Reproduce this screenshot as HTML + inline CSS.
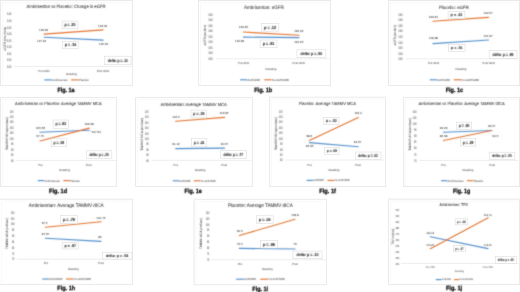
<!DOCTYPE html>
<html><head><meta charset="utf-8"><style>
html,body{margin:0;padding:0;background:#fff;}
body{width:520px;height:292px;overflow:hidden;}
svg{display:block;font-family:"Liberation Sans",sans-serif;text-rendering:geometricPrecision;}
</style></head><body>
<svg width="520" height="292" viewBox="0 0 520 292">
<defs><filter id="b" filterUnits="userSpaceOnUse" x="0" y="0" width="520" height="292"><feConvolveMatrix order="3" kernelMatrix="1 2 1 2 12 2 1 2 1" divisor="24" edgeMode="none"/></filter></defs>
<rect width="520" height="292" fill="#fff"/>
<rect x="0.5" y="0.5" width="132" height="85" fill="#fff" stroke="#eaeaea" stroke-width="1"/>
<path d="M2.5 84V2.5H131" fill="none" stroke="#f9f9f9" stroke-width="1"/>
<line x1="14.5" y1="66.4" x2="131.5" y2="66.4" stroke="#e0e0e0" stroke-width="0.6"/>
<rect x="198.5" y="0.5" width="132" height="85" fill="#fff" stroke="#eaeaea" stroke-width="1"/>
<path d="M200.5 84V2.5H329" fill="none" stroke="#f9f9f9" stroke-width="1"/>
<line x1="216.5" y1="58.8" x2="329.5" y2="58.8" stroke="#e0e0e0" stroke-width="0.6"/>
<rect x="388.5" y="0.5" width="131" height="85" fill="#fff" stroke="#eaeaea" stroke-width="1"/>
<path d="M390.5 84V2.5H518" fill="none" stroke="#f9f9f9" stroke-width="1"/>
<line x1="405.8" y1="58.8" x2="518.5" y2="58.8" stroke="#e0e0e0" stroke-width="0.6"/>
<rect x="0.5" y="97.5" width="116" height="89" fill="#fff" stroke="#eaeaea" stroke-width="1"/>
<path d="M2.5 185V99.5H115" fill="none" stroke="#f9f9f9" stroke-width="1"/>
<line x1="15.7" y1="160.4" x2="115.8" y2="160.4" stroke="#e0e0e0" stroke-width="0.6"/>
<rect x="135.5" y="97.5" width="117" height="89" fill="#fff" stroke="#eaeaea" stroke-width="1"/>
<path d="M137.5 185V99.5H251" fill="none" stroke="#f9f9f9" stroke-width="1"/>
<line x1="151.8" y1="160.3" x2="251.2" y2="160.3" stroke="#e0e0e0" stroke-width="0.6"/>
<rect x="269.5" y="97.2" width="116" height="89.3" fill="#fff" stroke="#eaeaea" stroke-width="1"/>
<path d="M271.5 185V99.2H384" fill="none" stroke="#f9f9f9" stroke-width="1"/>
<line x1="285.1" y1="160.1" x2="384.5" y2="160.1" stroke="#e0e0e0" stroke-width="0.6"/>
<rect x="403.5" y="97.5" width="116" height="89" fill="#fff" stroke="#eaeaea" stroke-width="1"/>
<path d="M405.5 185V99.5H518" fill="none" stroke="#f9f9f9" stroke-width="1"/>
<line x1="419.2" y1="160.4" x2="518" y2="160.4" stroke="#e0e0e0" stroke-width="0.6"/>
<rect x="-0.5" y="199.2" width="133" height="85.2" fill="#fff" stroke="#eaeaea" stroke-width="1"/>
<path d="M1.5 282.9V201.2H131" fill="none" stroke="#f9f9f9" stroke-width="1"/>
<line x1="16.9" y1="259.2" x2="131.5" y2="259.2" stroke="#e0e0e0" stroke-width="0.6"/>
<rect x="194" y="199.3" width="132.5" height="85.4" fill="#fff" stroke="#eaeaea" stroke-width="1"/>
<path d="M196 283.2V201.3H325" fill="none" stroke="#f9f9f9" stroke-width="1"/>
<line x1="211.5" y1="259.8" x2="325.7" y2="259.8" stroke="#e0e0e0" stroke-width="0.6"/>
<rect x="388.5" y="199.1" width="131" height="85.4" fill="#fff" stroke="#eaeaea" stroke-width="1"/>
<path d="M390.5 283V201.1H518" fill="none" stroke="#f9f9f9" stroke-width="1"/>
<line x1="401.3" y1="263.4" x2="518.3" y2="263.4" stroke="#e0e0e0" stroke-width="0.6"/>
<g filter="url(#b)">
<line x1="44.2" y1="37.3" x2="103.1" y2="40.1" stroke="#4f8ecb" stroke-width="1.15" stroke-linecap="round"/>
<line x1="44.2" y1="34.1" x2="103.1" y2="29.9" stroke="#e2742f" stroke-width="1.15" stroke-linecap="round"/>
<line x1="44.3" y1="79.9" x2="51.5" y2="79.9" stroke="#4f8ecb" stroke-width="1.15"/>
<line x1="71.2" y1="79.9" x2="78.5" y2="79.9" stroke="#e2742f" stroke-width="1.15"/>
<line x1="243.4" y1="37.1" x2="299" y2="37.6" stroke="#4f8ecb" stroke-width="1.15" stroke-linecap="round"/>
<line x1="243.4" y1="32" x2="299" y2="35.3" stroke="#e2742f" stroke-width="1.15" stroke-linecap="round"/>
<line x1="240.1" y1="79.8" x2="247.3" y2="79.8" stroke="#4f8ecb" stroke-width="1.15"/>
<line x1="264.2" y1="79.8" x2="271.5" y2="79.8" stroke="#e2742f" stroke-width="1.15"/>
<line x1="433" y1="43.6" x2="488.5" y2="40" stroke="#4f8ecb" stroke-width="1.15" stroke-linecap="round"/>
<line x1="433" y1="21.3" x2="488.5" y2="17.4" stroke="#e2742f" stroke-width="1.15" stroke-linecap="round"/>
<line x1="429.8" y1="79.8" x2="437" y2="79.8" stroke="#4f8ecb" stroke-width="1.15"/>
<line x1="453.8" y1="79.8" x2="461.3" y2="79.8" stroke="#e2742f" stroke-width="1.15"/>
<line x1="40" y1="132.2" x2="89.3" y2="130.3" stroke="#4f8ecb" stroke-width="1.15" stroke-linecap="round"/>
<line x1="40" y1="141" x2="89.3" y2="128.1" stroke="#e2742f" stroke-width="1.15" stroke-linecap="round"/>
<line x1="89.7" y1="130.7" x2="91.3" y2="131.7" stroke="#a6a6a6" stroke-width="0.6" stroke-linecap="round"/>
<line x1="37.8" y1="180.6" x2="44.1" y2="180.6" stroke="#4f8ecb" stroke-width="1.15"/>
<line x1="63.3" y1="180.6" x2="69.8" y2="180.6" stroke="#e2742f" stroke-width="1.15"/>
<line x1="175.7" y1="148.6" x2="224.6" y2="148.1" stroke="#4f8ecb" stroke-width="1.15" stroke-linecap="round"/>
<line x1="175.7" y1="121.3" x2="224.6" y2="117.4" stroke="#e2742f" stroke-width="1.15" stroke-linecap="round"/>
<line x1="172.8" y1="180.8" x2="179.3" y2="180.8" stroke="#4f8ecb" stroke-width="1.15"/>
<line x1="193.8" y1="180.8" x2="200.5" y2="180.8" stroke="#e2742f" stroke-width="1.15"/>
<line x1="309.4" y1="142.6" x2="358.3" y2="146.7" stroke="#4f8ecb" stroke-width="1.15" stroke-linecap="round"/>
<line x1="309.4" y1="140.4" x2="358.3" y2="117.4" stroke="#e2742f" stroke-width="1.15" stroke-linecap="round"/>
<line x1="306.5" y1="180.4" x2="313" y2="180.4" stroke="#4f8ecb" stroke-width="1.15"/>
<line x1="327.5" y1="180.4" x2="334.4" y2="180.4" stroke="#e2742f" stroke-width="1.15"/>
<line x1="443.4" y1="132.2" x2="491.9" y2="130.5" stroke="#4f8ecb" stroke-width="1.15" stroke-linecap="round"/>
<line x1="443.4" y1="140.5" x2="491.9" y2="130.5" stroke="#e2742f" stroke-width="1.15" stroke-linecap="round"/>
<line x1="441.1" y1="180.7" x2="447.3" y2="180.7" stroke="#4f8ecb" stroke-width="1.15"/>
<line x1="466.9" y1="180.7" x2="473.4" y2="180.7" stroke="#e2742f" stroke-width="1.15"/>
<line x1="45.4" y1="238.2" x2="101" y2="241.4" stroke="#4f8ecb" stroke-width="1.15" stroke-linecap="round"/>
<line x1="45.4" y1="227.3" x2="101" y2="221.7" stroke="#e2742f" stroke-width="1.15" stroke-linecap="round"/>
<line x1="42.3" y1="279" x2="49" y2="279" stroke="#4f8ecb" stroke-width="1.15"/>
<line x1="66" y1="279" x2="73.2" y2="279" stroke="#e2742f" stroke-width="1.15"/>
<line x1="239.3" y1="248.4" x2="295.1" y2="249" stroke="#4f8ecb" stroke-width="1.15" stroke-linecap="round"/>
<line x1="239.3" y1="235.5" x2="295.1" y2="219.3" stroke="#e2742f" stroke-width="1.15" stroke-linecap="round"/>
<line x1="236.1" y1="279.2" x2="243.8" y2="279.2" stroke="#4f8ecb" stroke-width="1.15"/>
<line x1="260.2" y1="279.2" x2="268.1" y2="279.2" stroke="#e2742f" stroke-width="1.15"/>
<line x1="430.3" y1="236.7" x2="488" y2="248.6" stroke="#4f8ecb" stroke-width="1.15" stroke-linecap="round"/>
<line x1="430.3" y1="248.7" x2="488.2" y2="217.8" stroke="#e2742f" stroke-width="1.15" stroke-linecap="round"/>
<line x1="435.8" y1="279.6" x2="441.5" y2="279.6" stroke="#4f8ecb" stroke-width="1.15"/>
<line x1="454.2" y1="279.6" x2="459" y2="279.6" stroke="#e2742f" stroke-width="1.15"/>
</g>
<rect x="62.1" y="21.1" width="15.8" height="7.65" fill="#fff" stroke="#dcdcdc" stroke-width="0.6"/>
<rect x="62.4" y="41.25" width="16.2" height="7.5" fill="#fff" stroke="#dcdcdc" stroke-width="0.6"/>
<rect x="104.6" y="56.2" width="26.5" height="8.5" fill="#fff" stroke="#dcdcdc" stroke-width="0.6"/>
<rect x="261.3" y="23.6" width="17.5" height="7.5" fill="#fff" stroke="#dcdcdc" stroke-width="0.6"/>
<rect x="260.1" y="40" width="16.9" height="7.7" fill="#fff" stroke="#dcdcdc" stroke-width="0.6"/>
<rect x="296.9" y="49.8" width="29" height="7.6" fill="#fff" stroke="#dcdcdc" stroke-width="0.6"/>
<rect x="448.1" y="11.5" width="16.7" height="7.1" fill="#fff" stroke="#dcdcdc" stroke-width="0.6"/>
<rect x="448.5" y="44.6" width="16.6" height="6.7" fill="#fff" stroke="#dcdcdc" stroke-width="0.6"/>
<rect x="489.2" y="50.3" width="27.7" height="8" fill="#fff" stroke="#dcdcdc" stroke-width="0.6"/>
<rect x="53.1" y="120" width="15.4" height="8.3" fill="#fff" stroke="#dcdcdc" stroke-width="0.6"/>
<rect x="51.2" y="138.8" width="15.3" height="7.9" fill="#fff" stroke="#dcdcdc" stroke-width="0.6"/>
<rect x="86.3" y="150.8" width="25.5" height="7.7" fill="#fff" stroke="#dcdcdc" stroke-width="0.6"/>
<rect x="191" y="110" width="15.8" height="7.8" fill="#fff" stroke="#dcdcdc" stroke-width="0.6"/>
<rect x="191.5" y="138.6" width="15.3" height="8.1" fill="#fff" stroke="#dcdcdc" stroke-width="0.6"/>
<rect x="220.3" y="150.7" width="26" height="7.9" fill="#fff" stroke="#dcdcdc" stroke-width="0.6"/>
<rect x="323.6" y="117.4" width="15.4" height="7.2" fill="#fff" stroke="#dcdcdc" stroke-width="0.6"/>
<rect x="324.7" y="147.6" width="14.4" height="6.7" fill="#fff" stroke="#dcdcdc" stroke-width="0.6"/>
<rect x="355.2" y="152" width="25.8" height="7.4" fill="#fff" stroke="#dcdcdc" stroke-width="0.6"/>
<rect x="456.5" y="122.1" width="15.2" height="7.4" fill="#fff" stroke="#dcdcdc" stroke-width="0.6"/>
<rect x="460.5" y="138.4" width="15.2" height="7.7" fill="#fff" stroke="#dcdcdc" stroke-width="0.6"/>
<rect x="489.2" y="152.2" width="25.6" height="7.4" fill="#fff" stroke="#dcdcdc" stroke-width="0.6"/>
<rect x="60.3" y="215.6" width="17.3" height="7.9" fill="#fff" stroke="#dcdcdc" stroke-width="0.6"/>
<rect x="62.1" y="242.5" width="16.5" height="6.5" fill="#fff" stroke="#dcdcdc" stroke-width="0.6"/>
<rect x="102.5" y="252.2" width="29.4" height="6.9" fill="#fff" stroke="#dcdcdc" stroke-width="0.6"/>
<rect x="256.4" y="215.8" width="16.8" height="7.6" fill="#fff" stroke="#dcdcdc" stroke-width="0.6"/>
<rect x="260.4" y="240.6" width="17.1" height="7.4" fill="#fff" stroke="#dcdcdc" stroke-width="0.6"/>
<rect x="292.9" y="251.1" width="29.1" height="7.6" fill="#fff" stroke="#dcdcdc" stroke-width="0.6"/>
<rect x="455.2" y="218.8" width="12.6" height="6.1" fill="#fff" stroke="#dcdcdc" stroke-width="0.6"/>
<rect x="453.4" y="245.4" width="11.9" height="6.3" fill="#fff" stroke="#dcdcdc" stroke-width="0.6"/>
<rect x="495.2" y="256.6" width="21.2" height="6.8" fill="#fff" stroke="#dcdcdc" stroke-width="0.6"/>
<g filter="url(#b)">
<text x="26.5" y="8.24" font-size="4.53" fill="#404040" stroke="#404040" stroke-width="0.07" textLength="79" lengthAdjust="spacingAndGlyphs">Ambrisentan vs Placebo: Change in eGFR</text>
<text x="11.45" y="15.46" font-size="3.5" fill="#505050" stroke="#505050" stroke-width="0.03" text-anchor="end" textLength="4.5" lengthAdjust="spacingAndGlyphs">145</text>
<text x="11.45" y="22.01" font-size="3.5" fill="#505050" stroke="#505050" stroke-width="0.03" text-anchor="end" textLength="4.5" lengthAdjust="spacingAndGlyphs">140</text>
<text x="11.45" y="28.56" font-size="3.5" fill="#505050" stroke="#505050" stroke-width="0.03" text-anchor="end" textLength="4.5" lengthAdjust="spacingAndGlyphs">135</text>
<text x="11.45" y="35.11" font-size="3.5" fill="#505050" stroke="#505050" stroke-width="0.03" text-anchor="end" textLength="4.5" lengthAdjust="spacingAndGlyphs">130</text>
<text x="11.45" y="41.66" font-size="3.5" fill="#505050" stroke="#505050" stroke-width="0.03" text-anchor="end" textLength="4.5" lengthAdjust="spacingAndGlyphs">125</text>
<text x="11.45" y="48.21" font-size="3.5" fill="#505050" stroke="#505050" stroke-width="0.03" text-anchor="end" textLength="4.5" lengthAdjust="spacingAndGlyphs">120</text>
<text x="11.45" y="54.76" font-size="3.5" fill="#505050" stroke="#505050" stroke-width="0.03" text-anchor="end" textLength="4.5" lengthAdjust="spacingAndGlyphs">115</text>
<text x="11.45" y="61.31" font-size="3.5" fill="#505050" stroke="#505050" stroke-width="0.03" text-anchor="end" textLength="4.5" lengthAdjust="spacingAndGlyphs">110</text>
<text x="11.45" y="67.86" font-size="3.5" fill="#505050" stroke="#505050" stroke-width="0.03" text-anchor="end" textLength="4.5" lengthAdjust="spacingAndGlyphs">105</text>
<text transform="translate(5 39) rotate(-90)" x="0" y="1.19" font-size="3.3" fill="#404040" stroke="#404040" stroke-width="0.03" text-anchor="middle" textLength="23.5" lengthAdjust="spacingAndGlyphs">eGFR (mL/min)</text>
<text x="43.6" y="30.58" font-size="3" fill="#3c3c3c" stroke="#3c3c3c" stroke-width="0.03" text-anchor="middle">129.96</text>
<text x="41.6" y="41.58" font-size="3" fill="#3c3c3c" stroke="#3c3c3c" stroke-width="0.03" text-anchor="middle">127.34</text>
<text x="102.7" y="26.68" font-size="3" fill="#3c3c3c" stroke="#3c3c3c" stroke-width="0.03" text-anchor="middle">133.06</text>
<text x="103.6" y="44.68" font-size="3" fill="#3c3c3c" stroke="#3c3c3c" stroke-width="0.03" text-anchor="middle">125.32</text>
<text x="70" y="26.21" font-size="4.28" fill="#1a1a1a" stroke="#1a1a1a" stroke-width="0.04" text-anchor="middle" font-weight="bold" textLength="11.06" lengthAdjust="spacingAndGlyphs">p = .20</text>
<text x="70.5" y="46.26" font-size="4.2" fill="#1a1a1a" stroke="#1a1a1a" stroke-width="0.04" text-anchor="middle" font-weight="bold" textLength="11.34" lengthAdjust="spacingAndGlyphs">p = .34</text>
<text x="117.85" y="61.74" font-size="4.3" fill="#1a1a1a" stroke="#1a1a1a" stroke-width="0.04" text-anchor="middle" font-weight="bold" textLength="20.01" lengthAdjust="spacingAndGlyphs">delta: p = .11</text>
<text x="44" y="71.94" font-size="2.9" fill="#505050" stroke="#505050" stroke-width="0.03" text-anchor="middle">Pre GFR</text>
<text x="103" y="71.94" font-size="2.9" fill="#505050" stroke="#505050" stroke-width="0.03" text-anchor="middle">Post GFR</text>
<text x="71.5" y="75.46" font-size="2.9" fill="#505050" stroke="#505050" stroke-width="0.03" text-anchor="middle">Reading</text>
<text x="51.8" y="80.89" font-size="3" fill="#505050" stroke="#505050" stroke-width="0.03" textLength="15.9" lengthAdjust="spacingAndGlyphs">Ambrisentan</text>
<text x="78.8" y="80.89" font-size="3" fill="#505050" stroke="#505050" stroke-width="0.03" textLength="10" lengthAdjust="spacingAndGlyphs">Placebo</text>
<text x="57.4" y="91.73" font-size="6.2" fill="#000" stroke="#000" stroke-width="0.25" font-weight="bold" textLength="17.2" lengthAdjust="spacingAndGlyphs">Fig. 1a</text>
<text x="244" y="8.66" font-size="4.88" fill="#404040" stroke="#404040" stroke-width="0.07" textLength="39.9" lengthAdjust="spacingAndGlyphs">Ambrisentan: eGFR</text>
<text x="212.75" y="15.86" font-size="3.5" fill="#505050" stroke="#505050" stroke-width="0.03" text-anchor="end" textLength="4.5" lengthAdjust="spacingAndGlyphs">145</text>
<text x="212.75" y="21.37" font-size="3.5" fill="#505050" stroke="#505050" stroke-width="0.03" text-anchor="end" textLength="4.5" lengthAdjust="spacingAndGlyphs">140</text>
<text x="212.75" y="26.89" font-size="3.5" fill="#505050" stroke="#505050" stroke-width="0.03" text-anchor="end" textLength="4.5" lengthAdjust="spacingAndGlyphs">135</text>
<text x="212.75" y="32.4" font-size="3.5" fill="#505050" stroke="#505050" stroke-width="0.03" text-anchor="end" textLength="4.5" lengthAdjust="spacingAndGlyphs">130</text>
<text x="212.75" y="37.91" font-size="3.5" fill="#505050" stroke="#505050" stroke-width="0.03" text-anchor="end" textLength="4.5" lengthAdjust="spacingAndGlyphs">125</text>
<text x="212.75" y="43.42" font-size="3.5" fill="#505050" stroke="#505050" stroke-width="0.03" text-anchor="end" textLength="4.5" lengthAdjust="spacingAndGlyphs">120</text>
<text x="212.75" y="48.94" font-size="3.5" fill="#505050" stroke="#505050" stroke-width="0.03" text-anchor="end" textLength="4.5" lengthAdjust="spacingAndGlyphs">115</text>
<text x="212.75" y="54.45" font-size="3.5" fill="#505050" stroke="#505050" stroke-width="0.03" text-anchor="end" textLength="4.5" lengthAdjust="spacingAndGlyphs">110</text>
<text x="212.75" y="59.96" font-size="3.5" fill="#505050" stroke="#505050" stroke-width="0.03" text-anchor="end" textLength="4.5" lengthAdjust="spacingAndGlyphs">105</text>
<text transform="translate(205.1 34.9) rotate(-90)" x="0" y="1.19" font-size="3.3" fill="#404040" stroke="#404040" stroke-width="0.03" text-anchor="middle" textLength="20.5" lengthAdjust="spacingAndGlyphs">eGFR (mL/min)</text>
<text x="243.4" y="28.18" font-size="3" fill="#3c3c3c" stroke="#3c3c3c" stroke-width="0.03" text-anchor="middle">129.62</text>
<text x="239.6" y="41.98" font-size="3" fill="#3c3c3c" stroke="#3c3c3c" stroke-width="0.03" text-anchor="middle">124.68</text>
<text x="298.8" y="31.68" font-size="3" fill="#3c3c3c" stroke="#3c3c3c" stroke-width="0.03" text-anchor="middle">126.24</text>
<text x="298.8" y="42.78" font-size="3" fill="#3c3c3c" stroke="#3c3c3c" stroke-width="0.03" text-anchor="middle">124.25</text>
<text x="270.05" y="28.61" font-size="4.2" fill="#1a1a1a" stroke="#1a1a1a" stroke-width="0.04" text-anchor="middle" font-weight="bold" textLength="12.25" lengthAdjust="spacingAndGlyphs">p = .12</text>
<text x="268.55" y="45.14" font-size="4.3" fill="#1a1a1a" stroke="#1a1a1a" stroke-width="0.04" text-anchor="middle" font-weight="bold" textLength="11.83" lengthAdjust="spacingAndGlyphs">p = .91</text>
<text x="311.4" y="54.88" font-size="4.26" fill="#1a1a1a" stroke="#1a1a1a" stroke-width="0.04" text-anchor="middle" font-weight="bold" textLength="21.89" lengthAdjust="spacingAndGlyphs">delta: p = .50</text>
<text x="243.7" y="64.44" font-size="2.9" fill="#505050" stroke="#505050" stroke-width="0.03" text-anchor="middle">Pre GFR</text>
<text x="298.5" y="64.44" font-size="2.9" fill="#505050" stroke="#505050" stroke-width="0.03" text-anchor="middle">Post GFR</text>
<text x="271" y="70.06" font-size="2.9" fill="#505050" stroke="#505050" stroke-width="0.03" text-anchor="middle">Reading</text>
<text x="247.6" y="80.79" font-size="3" fill="#505050" stroke="#505050" stroke-width="0.03" textLength="12.6" lengthAdjust="spacingAndGlyphs">ACE/ARB</text>
<text x="271.8" y="80.79" font-size="3" fill="#505050" stroke="#505050" stroke-width="0.03" textLength="17.2" lengthAdjust="spacingAndGlyphs">No ACE/ARB</text>
<text x="254.2" y="92.03" font-size="6.2" fill="#000" stroke="#000" stroke-width="0.25" font-weight="bold" textLength="18" lengthAdjust="spacingAndGlyphs">Fig. 1b</text>
<text x="439" y="8.5" font-size="4.71" fill="#404040" stroke="#404040" stroke-width="0.07" textLength="29.8" lengthAdjust="spacingAndGlyphs">Placebo: eGFR</text>
<text x="402.75" y="15.86" font-size="3.5" fill="#505050" stroke="#505050" stroke-width="0.03" text-anchor="end" textLength="4.5" lengthAdjust="spacingAndGlyphs">145</text>
<text x="402.75" y="21.4" font-size="3.5" fill="#505050" stroke="#505050" stroke-width="0.03" text-anchor="end" textLength="4.5" lengthAdjust="spacingAndGlyphs">140</text>
<text x="402.75" y="26.93" font-size="3.5" fill="#505050" stroke="#505050" stroke-width="0.03" text-anchor="end" textLength="4.5" lengthAdjust="spacingAndGlyphs">135</text>
<text x="402.75" y="32.47" font-size="3.5" fill="#505050" stroke="#505050" stroke-width="0.03" text-anchor="end" textLength="4.5" lengthAdjust="spacingAndGlyphs">130</text>
<text x="402.75" y="38.01" font-size="3.5" fill="#505050" stroke="#505050" stroke-width="0.03" text-anchor="end" textLength="4.5" lengthAdjust="spacingAndGlyphs">125</text>
<text x="402.75" y="43.55" font-size="3.5" fill="#505050" stroke="#505050" stroke-width="0.03" text-anchor="end" textLength="4.5" lengthAdjust="spacingAndGlyphs">120</text>
<text x="402.75" y="49.08" font-size="3.5" fill="#505050" stroke="#505050" stroke-width="0.03" text-anchor="end" textLength="4.5" lengthAdjust="spacingAndGlyphs">115</text>
<text x="402.75" y="54.62" font-size="3.5" fill="#505050" stroke="#505050" stroke-width="0.03" text-anchor="end" textLength="4.5" lengthAdjust="spacingAndGlyphs">110</text>
<text x="402.75" y="60.16" font-size="3.5" fill="#505050" stroke="#505050" stroke-width="0.03" text-anchor="end" textLength="4.5" lengthAdjust="spacingAndGlyphs">105</text>
<text transform="translate(395.1 34.9) rotate(-90)" x="0" y="1.19" font-size="3.3" fill="#404040" stroke="#404040" stroke-width="0.03" text-anchor="middle" textLength="20.5" lengthAdjust="spacingAndGlyphs">eGFR (mL/min)</text>
<text x="433.3" y="17.58" font-size="3" fill="#3c3c3c" stroke="#3c3c3c" stroke-width="0.03" text-anchor="middle">139.34</text>
<text x="433.5" y="39.48" font-size="3" fill="#3c3c3c" stroke="#3c3c3c" stroke-width="0.03" text-anchor="middle">118.98</text>
<text x="488.2" y="13.58" font-size="3" fill="#3c3c3c" stroke="#3c3c3c" stroke-width="0.03" text-anchor="middle">142.57</text>
<text x="488.2" y="36.58" font-size="3" fill="#3c3c3c" stroke="#3c3c3c" stroke-width="0.03" text-anchor="middle">121.97</text>
<text x="456.45" y="16.24" font-size="3.98" fill="#1a1a1a" stroke="#1a1a1a" stroke-width="0.04" text-anchor="middle" font-weight="bold" textLength="11.69" lengthAdjust="spacingAndGlyphs">p = .42</text>
<text x="456.8" y="49.08" font-size="3.75" fill="#1a1a1a" stroke="#1a1a1a" stroke-width="0.04" text-anchor="middle" font-weight="bold" textLength="11.62" lengthAdjust="spacingAndGlyphs">p = .31</text>
<text x="503.05" y="55.59" font-size="4.3" fill="#1a1a1a" stroke="#1a1a1a" stroke-width="0.04" text-anchor="middle" font-weight="bold" textLength="20.91" lengthAdjust="spacingAndGlyphs">delta: p = .95</text>
<text x="433.6" y="64.44" font-size="2.9" fill="#505050" stroke="#505050" stroke-width="0.03" text-anchor="middle">Pre GFR</text>
<text x="488.5" y="64.44" font-size="2.9" fill="#505050" stroke="#505050" stroke-width="0.03" text-anchor="middle">Post GFR</text>
<text x="461" y="70.06" font-size="2.9" fill="#505050" stroke="#505050" stroke-width="0.03" text-anchor="middle">Reading</text>
<text x="437.3" y="80.79" font-size="3" fill="#505050" stroke="#505050" stroke-width="0.03" textLength="12.6" lengthAdjust="spacingAndGlyphs">ACE/ARB</text>
<text x="461.6" y="80.79" font-size="3" fill="#505050" stroke="#505050" stroke-width="0.03" textLength="17.4" lengthAdjust="spacingAndGlyphs">No ACE/ARB</text>
<text x="445.7" y="92.13" font-size="6.2" fill="#000" stroke="#000" stroke-width="0.25" font-weight="bold" textLength="17.5" lengthAdjust="spacingAndGlyphs">Fig. 1c</text>
<text x="15.1" y="105.09" font-size="4.39" fill="#404040" stroke="#404040" stroke-width="0.07" textLength="86.6" lengthAdjust="spacingAndGlyphs">Ambrisentan vs Placebo: Average TAMMV MCA</text>
<text x="13.72" y="112.56" font-size="3.5" fill="#505050" stroke="#505050" stroke-width="0.03" text-anchor="end" textLength="4.05" lengthAdjust="spacingAndGlyphs">125</text>
<text x="13.72" y="118.02" font-size="3.5" fill="#505050" stroke="#505050" stroke-width="0.03" text-anchor="end" textLength="4.05" lengthAdjust="spacingAndGlyphs">120</text>
<text x="13.72" y="123.47" font-size="3.5" fill="#505050" stroke="#505050" stroke-width="0.03" text-anchor="end" textLength="4.05" lengthAdjust="spacingAndGlyphs">115</text>
<text x="13.72" y="128.93" font-size="3.5" fill="#505050" stroke="#505050" stroke-width="0.03" text-anchor="end" textLength="4.05" lengthAdjust="spacingAndGlyphs">110</text>
<text x="13.72" y="134.38" font-size="3.5" fill="#505050" stroke="#505050" stroke-width="0.03" text-anchor="end" textLength="4.05" lengthAdjust="spacingAndGlyphs">105</text>
<text x="13.72" y="139.84" font-size="3.5" fill="#505050" stroke="#505050" stroke-width="0.03" text-anchor="end" textLength="4.05" lengthAdjust="spacingAndGlyphs">100</text>
<text x="13.72" y="145.29" font-size="3.5" fill="#505050" stroke="#505050" stroke-width="0.03" text-anchor="end" textLength="2.7" lengthAdjust="spacingAndGlyphs">95</text>
<text x="13.72" y="150.75" font-size="3.5" fill="#505050" stroke="#505050" stroke-width="0.03" text-anchor="end" textLength="2.7" lengthAdjust="spacingAndGlyphs">90</text>
<text x="13.72" y="156.2" font-size="3.5" fill="#505050" stroke="#505050" stroke-width="0.03" text-anchor="end" textLength="2.7" lengthAdjust="spacingAndGlyphs">85</text>
<text x="13.72" y="161.66" font-size="3.5" fill="#505050" stroke="#505050" stroke-width="0.03" text-anchor="end" textLength="2.7" lengthAdjust="spacingAndGlyphs">80</text>
<text transform="translate(6.8 133.6) rotate(-90)" x="0" y="1.19" font-size="3.3" fill="#404040" stroke="#404040" stroke-width="0.03" text-anchor="middle" textLength="32.7" lengthAdjust="spacingAndGlyphs">TAMMV MCA (cm/sec)</text>
<text x="40.5" y="128.78" font-size="3" fill="#3c3c3c" stroke="#3c3c3c" stroke-width="0.03" text-anchor="middle">105.66</text>
<text x="40.3" y="137.08" font-size="3" fill="#3c3c3c" stroke="#3c3c3c" stroke-width="0.03" text-anchor="middle">97.75</text>
<text x="89" y="124.68" font-size="3" fill="#3c3c3c" stroke="#3c3c3c" stroke-width="0.03" text-anchor="middle">109.38</text>
<text x="96.3" y="132.58" font-size="3" fill="#3c3c3c" stroke="#3c3c3c" stroke-width="0.03" text-anchor="middle">107.64</text>
<text x="60.8" y="125.44" font-size="4.3" fill="#1a1a1a" stroke="#1a1a1a" stroke-width="0.04" text-anchor="middle" font-weight="bold" textLength="10.78" lengthAdjust="spacingAndGlyphs">p = .82</text>
<text x="58.85" y="144.04" font-size="4.3" fill="#1a1a1a" stroke="#1a1a1a" stroke-width="0.04" text-anchor="middle" font-weight="bold" textLength="10.71" lengthAdjust="spacingAndGlyphs">p = .08</text>
<text x="99.05" y="155.94" font-size="4.3" fill="#1a1a1a" stroke="#1a1a1a" stroke-width="0.04" text-anchor="middle" font-weight="bold" textLength="19.25" lengthAdjust="spacingAndGlyphs">delta: p = .20</text>
<text x="40.4" y="165.74" font-size="2.9" fill="#505050" stroke="#505050" stroke-width="0.03" text-anchor="middle">Pre</text>
<text x="88.6" y="165.74" font-size="2.9" fill="#505050" stroke="#505050" stroke-width="0.03" text-anchor="middle">Post</text>
<text x="64.7" y="171.06" font-size="2.9" fill="#505050" stroke="#505050" stroke-width="0.03" text-anchor="middle">Reading</text>
<text x="44.4" y="181.59" font-size="3" fill="#505050" stroke="#505050" stroke-width="0.03" textLength="15.6" lengthAdjust="spacingAndGlyphs">Ambrisentan</text>
<text x="70.1" y="181.59" font-size="3" fill="#505050" stroke="#505050" stroke-width="0.03" textLength="9.9" lengthAdjust="spacingAndGlyphs">Placebo</text>
<text x="49.1" y="193.23" font-size="6.2" fill="#000" stroke="#000" stroke-width="0.25" font-weight="bold" textLength="18" lengthAdjust="spacingAndGlyphs">Fig. 1d</text>
<text x="160.4" y="105.51" font-size="4.45" fill="#404040" stroke="#404040" stroke-width="0.07" textLength="66.4" lengthAdjust="spacingAndGlyphs">Ambrisentan: Average TAMMV MCA</text>
<text x="148.83" y="112.86" font-size="3.5" fill="#505050" stroke="#505050" stroke-width="0.03" text-anchor="end" textLength="4.05" lengthAdjust="spacingAndGlyphs">125</text>
<text x="148.83" y="118.27" font-size="3.5" fill="#505050" stroke="#505050" stroke-width="0.03" text-anchor="end" textLength="4.05" lengthAdjust="spacingAndGlyphs">120</text>
<text x="148.83" y="123.68" font-size="3.5" fill="#505050" stroke="#505050" stroke-width="0.03" text-anchor="end" textLength="4.05" lengthAdjust="spacingAndGlyphs">115</text>
<text x="148.83" y="129.09" font-size="3.5" fill="#505050" stroke="#505050" stroke-width="0.03" text-anchor="end" textLength="4.05" lengthAdjust="spacingAndGlyphs">110</text>
<text x="148.83" y="134.5" font-size="3.5" fill="#505050" stroke="#505050" stroke-width="0.03" text-anchor="end" textLength="4.05" lengthAdjust="spacingAndGlyphs">105</text>
<text x="148.83" y="139.92" font-size="3.5" fill="#505050" stroke="#505050" stroke-width="0.03" text-anchor="end" textLength="4.05" lengthAdjust="spacingAndGlyphs">100</text>
<text x="148.83" y="145.33" font-size="3.5" fill="#505050" stroke="#505050" stroke-width="0.03" text-anchor="end" textLength="2.7" lengthAdjust="spacingAndGlyphs">95</text>
<text x="148.83" y="150.74" font-size="3.5" fill="#505050" stroke="#505050" stroke-width="0.03" text-anchor="end" textLength="2.7" lengthAdjust="spacingAndGlyphs">90</text>
<text x="148.83" y="156.15" font-size="3.5" fill="#505050" stroke="#505050" stroke-width="0.03" text-anchor="end" textLength="2.7" lengthAdjust="spacingAndGlyphs">85</text>
<text x="148.83" y="161.56" font-size="3.5" fill="#505050" stroke="#505050" stroke-width="0.03" text-anchor="end" textLength="2.7" lengthAdjust="spacingAndGlyphs">80</text>
<text transform="translate(141.8 134.2) rotate(-90)" x="0" y="1.19" font-size="3.3" fill="#404040" stroke="#404040" stroke-width="0.03" text-anchor="middle" textLength="32.8" lengthAdjust="spacingAndGlyphs">TAMMV MCA (cm/sec)</text>
<text x="176" y="117.58" font-size="3" fill="#3c3c3c" stroke="#3c3c3c" stroke-width="0.03" text-anchor="middle">116.5</text>
<text x="176" y="144.78" font-size="3" fill="#3c3c3c" stroke="#3c3c3c" stroke-width="0.03" text-anchor="middle">91.12</text>
<text x="224" y="114.18" font-size="3" fill="#3c3c3c" stroke="#3c3c3c" stroke-width="0.03" text-anchor="middle">119.62</text>
<text x="224.4" y="144.78" font-size="3" fill="#3c3c3c" stroke="#3c3c3c" stroke-width="0.03" text-anchor="middle">91.67</text>
<text x="198.9" y="115.19" font-size="4.3" fill="#1a1a1a" stroke="#1a1a1a" stroke-width="0.04" text-anchor="middle" font-weight="bold" textLength="11.06" lengthAdjust="spacingAndGlyphs">p = .35</text>
<text x="199.15" y="143.94" font-size="4.3" fill="#1a1a1a" stroke="#1a1a1a" stroke-width="0.04" text-anchor="middle" font-weight="bold" textLength="10.71" lengthAdjust="spacingAndGlyphs">p = .41</text>
<text x="233.3" y="155.94" font-size="4.3" fill="#1a1a1a" stroke="#1a1a1a" stroke-width="0.04" text-anchor="middle" font-weight="bold" textLength="19.63" lengthAdjust="spacingAndGlyphs">delta: p = .77</text>
<text x="175.8" y="166.04" font-size="2.9" fill="#505050" stroke="#505050" stroke-width="0.03" text-anchor="middle">Pre</text>
<text x="224.1" y="166.04" font-size="2.9" fill="#505050" stroke="#505050" stroke-width="0.03" text-anchor="middle">Post</text>
<text x="200.1" y="171.46" font-size="2.9" fill="#505050" stroke="#505050" stroke-width="0.03" text-anchor="middle">Reading</text>
<text x="179.6" y="181.79" font-size="3" fill="#505050" stroke="#505050" stroke-width="0.03" textLength="10.8" lengthAdjust="spacingAndGlyphs">ACE/ARB</text>
<text x="200.8" y="181.79" font-size="3" fill="#505050" stroke="#505050" stroke-width="0.03" textLength="14.8" lengthAdjust="spacingAndGlyphs">No ACE/ARB</text>
<text x="184.6" y="193.43" font-size="6.2" fill="#000" stroke="#000" stroke-width="0.25" font-weight="bold" textLength="17.1" lengthAdjust="spacingAndGlyphs">Fig. 1e</text>
<text x="298.7" y="105.29" font-size="4.38" fill="#404040" stroke="#404040" stroke-width="0.07" textLength="57.3" lengthAdjust="spacingAndGlyphs">Placebo: Average TAMMV MCA</text>
<text x="282.82" y="112.56" font-size="3.5" fill="#505050" stroke="#505050" stroke-width="0.03" text-anchor="end" textLength="4.05" lengthAdjust="spacingAndGlyphs">125</text>
<text x="282.82" y="117.98" font-size="3.5" fill="#505050" stroke="#505050" stroke-width="0.03" text-anchor="end" textLength="4.05" lengthAdjust="spacingAndGlyphs">120</text>
<text x="282.82" y="123.4" font-size="3.5" fill="#505050" stroke="#505050" stroke-width="0.03" text-anchor="end" textLength="4.05" lengthAdjust="spacingAndGlyphs">115</text>
<text x="282.82" y="128.83" font-size="3.5" fill="#505050" stroke="#505050" stroke-width="0.03" text-anchor="end" textLength="4.05" lengthAdjust="spacingAndGlyphs">110</text>
<text x="282.82" y="134.25" font-size="3.5" fill="#505050" stroke="#505050" stroke-width="0.03" text-anchor="end" textLength="4.05" lengthAdjust="spacingAndGlyphs">105</text>
<text x="282.82" y="139.67" font-size="3.5" fill="#505050" stroke="#505050" stroke-width="0.03" text-anchor="end" textLength="4.05" lengthAdjust="spacingAndGlyphs">100</text>
<text x="282.82" y="145.09" font-size="3.5" fill="#505050" stroke="#505050" stroke-width="0.03" text-anchor="end" textLength="2.7" lengthAdjust="spacingAndGlyphs">95</text>
<text x="282.82" y="150.52" font-size="3.5" fill="#505050" stroke="#505050" stroke-width="0.03" text-anchor="end" textLength="2.7" lengthAdjust="spacingAndGlyphs">90</text>
<text x="282.82" y="155.94" font-size="3.5" fill="#505050" stroke="#505050" stroke-width="0.03" text-anchor="end" textLength="2.7" lengthAdjust="spacingAndGlyphs">85</text>
<text x="282.82" y="161.36" font-size="3.5" fill="#505050" stroke="#505050" stroke-width="0.03" text-anchor="end" textLength="2.7" lengthAdjust="spacingAndGlyphs">80</text>
<text transform="translate(275.8 133.6) rotate(-90)" x="0" y="1.19" font-size="3.3" fill="#404040" stroke="#404040" stroke-width="0.03" text-anchor="middle" textLength="32.7" lengthAdjust="spacingAndGlyphs">TAMMV MCA (cm/sec)</text>
<text x="309.3" y="136.58" font-size="3" fill="#3c3c3c" stroke="#3c3c3c" stroke-width="0.03" text-anchor="middle">98.6</text>
<text x="309.6" y="146.88" font-size="3" fill="#3c3c3c" stroke="#3c3c3c" stroke-width="0.03" text-anchor="middle">96.35</text>
<text x="358.1" y="113.98" font-size="3" fill="#3c3c3c" stroke="#3c3c3c" stroke-width="0.03" text-anchor="middle">119.4</text>
<text x="357.5" y="143.38" font-size="3" fill="#3c3c3c" stroke="#3c3c3c" stroke-width="0.03" text-anchor="middle">92.67</text>
<text x="331.3" y="122.21" font-size="4.03" fill="#1a1a1a" stroke="#1a1a1a" stroke-width="0.04" text-anchor="middle" font-weight="bold" textLength="10.78" lengthAdjust="spacingAndGlyphs">p = .02</text>
<text x="331.9" y="152.08" font-size="3.75" fill="#1a1a1a" stroke="#1a1a1a" stroke-width="0.04" text-anchor="middle" font-weight="bold" textLength="10.08" lengthAdjust="spacingAndGlyphs">p = .28</text>
<text x="368.1" y="156.94" font-size="4.14" fill="#1a1a1a" stroke="#1a1a1a" stroke-width="0.04" text-anchor="middle" font-weight="bold" textLength="19.48" lengthAdjust="spacingAndGlyphs">delta: p = .02</text>
<text x="309.5" y="165.74" font-size="2.9" fill="#505050" stroke="#505050" stroke-width="0.03" text-anchor="middle">Pre</text>
<text x="357.9" y="165.74" font-size="2.9" fill="#505050" stroke="#505050" stroke-width="0.03" text-anchor="middle">Post</text>
<text x="333.9" y="171.06" font-size="2.9" fill="#505050" stroke="#505050" stroke-width="0.03" text-anchor="middle">Reading</text>
<text x="313.3" y="181.39" font-size="3" fill="#505050" stroke="#505050" stroke-width="0.03" textLength="10.7" lengthAdjust="spacingAndGlyphs">ACE/ARB</text>
<text x="334.7" y="181.39" font-size="3" fill="#505050" stroke="#505050" stroke-width="0.03" textLength="14.9" lengthAdjust="spacingAndGlyphs">No ACE/ARB</text>
<text x="319.3" y="193.43" font-size="6.2" fill="#000" stroke="#000" stroke-width="0.25" font-weight="bold" textLength="16.7" lengthAdjust="spacingAndGlyphs">Fig. 1f</text>
<text x="418.5" y="105.09" font-size="4.37" fill="#404040" stroke="#404040" stroke-width="0.07" textLength="86.1" lengthAdjust="spacingAndGlyphs">Ambrisentan vs Placebo: Average TAMMV dICA</text>
<text x="416.62" y="112.86" font-size="3.5" fill="#505050" stroke="#505050" stroke-width="0.03" text-anchor="end" textLength="4.05" lengthAdjust="spacingAndGlyphs">110</text>
<text x="416.62" y="118.96" font-size="3.5" fill="#505050" stroke="#505050" stroke-width="0.03" text-anchor="end" textLength="4.05" lengthAdjust="spacingAndGlyphs">105</text>
<text x="416.62" y="125.06" font-size="3.5" fill="#505050" stroke="#505050" stroke-width="0.03" text-anchor="end" textLength="4.05" lengthAdjust="spacingAndGlyphs">100</text>
<text x="416.62" y="131.16" font-size="3.5" fill="#505050" stroke="#505050" stroke-width="0.03" text-anchor="end" textLength="2.7" lengthAdjust="spacingAndGlyphs">95</text>
<text x="416.62" y="137.26" font-size="3.5" fill="#505050" stroke="#505050" stroke-width="0.03" text-anchor="end" textLength="2.7" lengthAdjust="spacingAndGlyphs">90</text>
<text x="416.62" y="143.36" font-size="3.5" fill="#505050" stroke="#505050" stroke-width="0.03" text-anchor="end" textLength="2.7" lengthAdjust="spacingAndGlyphs">85</text>
<text x="416.62" y="149.46" font-size="3.5" fill="#505050" stroke="#505050" stroke-width="0.03" text-anchor="end" textLength="2.7" lengthAdjust="spacingAndGlyphs">80</text>
<text x="416.62" y="155.56" font-size="3.5" fill="#505050" stroke="#505050" stroke-width="0.03" text-anchor="end" textLength="2.7" lengthAdjust="spacingAndGlyphs">75</text>
<text x="416.62" y="161.66" font-size="3.5" fill="#505050" stroke="#505050" stroke-width="0.03" text-anchor="end" textLength="2.7" lengthAdjust="spacingAndGlyphs">70</text>
<text transform="translate(409.8 134.3) rotate(-90)" x="0" y="1.19" font-size="3.3" fill="#404040" stroke="#404040" stroke-width="0.03" text-anchor="middle" textLength="32.5" lengthAdjust="spacingAndGlyphs">TAMMV dICA (cm/sec)</text>
<text x="443.6" y="128.88" font-size="3" fill="#3c3c3c" stroke="#3c3c3c" stroke-width="0.03" text-anchor="middle">93.29</text>
<text x="443.6" y="137.28" font-size="3" fill="#3c3c3c" stroke="#3c3c3c" stroke-width="0.03" text-anchor="middle">86.38</text>
<text x="491.8" y="126.78" font-size="3" fill="#3c3c3c" stroke="#3c3c3c" stroke-width="0.03" text-anchor="middle">94.57</text>
<text x="495.5" y="136.58" font-size="3" fill="#3c3c3c" stroke="#3c3c3c" stroke-width="0.03" text-anchor="middle">94.5</text>
<text x="464.1" y="127.04" font-size="4.14" fill="#1a1a1a" stroke="#1a1a1a" stroke-width="0.04" text-anchor="middle" font-weight="bold" textLength="10.64" lengthAdjust="spacingAndGlyphs">p = .80</text>
<text x="468.1" y="143.54" font-size="4.3" fill="#1a1a1a" stroke="#1a1a1a" stroke-width="0.04" text-anchor="middle" font-weight="bold" textLength="10.64" lengthAdjust="spacingAndGlyphs">p = .29</text>
<text x="502" y="157.14" font-size="4.14" fill="#1a1a1a" stroke="#1a1a1a" stroke-width="0.04" text-anchor="middle" font-weight="bold" textLength="19.33" lengthAdjust="spacingAndGlyphs">delta: p = .30</text>
<text x="443.5" y="166.04" font-size="2.9" fill="#505050" stroke="#505050" stroke-width="0.03" text-anchor="middle">Pre</text>
<text x="492.1" y="166.04" font-size="2.9" fill="#505050" stroke="#505050" stroke-width="0.03" text-anchor="middle">Post</text>
<text x="467.9" y="171.46" font-size="2.9" fill="#505050" stroke="#505050" stroke-width="0.03" text-anchor="middle">Reading</text>
<text x="447.6" y="181.69" font-size="3" fill="#505050" stroke="#505050" stroke-width="0.03" textLength="15.9" lengthAdjust="spacingAndGlyphs">Ambrisentan</text>
<text x="473.7" y="181.69" font-size="3" fill="#505050" stroke="#505050" stroke-width="0.03" textLength="9.4" lengthAdjust="spacingAndGlyphs">Placebo</text>
<text x="453" y="193.43" font-size="6.2" fill="#000" stroke="#000" stroke-width="0.25" font-weight="bold" textLength="17.3" lengthAdjust="spacingAndGlyphs">Fig. 1g</text>
<text x="28.8" y="206.69" font-size="4.97" fill="#404040" stroke="#404040" stroke-width="0.07" textLength="74.9" lengthAdjust="spacingAndGlyphs">Ambrisentan: Average TAMMV dICA</text>
<text x="14.38" y="213.66" font-size="3.5" fill="#505050" stroke="#505050" stroke-width="0.03" text-anchor="end" textLength="3.75" lengthAdjust="spacingAndGlyphs">110</text>
<text x="14.38" y="219.51" font-size="3.5" fill="#505050" stroke="#505050" stroke-width="0.03" text-anchor="end" textLength="3.75" lengthAdjust="spacingAndGlyphs">105</text>
<text x="14.38" y="225.36" font-size="3.5" fill="#505050" stroke="#505050" stroke-width="0.03" text-anchor="end" textLength="3.75" lengthAdjust="spacingAndGlyphs">100</text>
<text x="14.38" y="231.21" font-size="3.5" fill="#505050" stroke="#505050" stroke-width="0.03" text-anchor="end" textLength="2.5" lengthAdjust="spacingAndGlyphs">95</text>
<text x="14.38" y="237.06" font-size="3.5" fill="#505050" stroke="#505050" stroke-width="0.03" text-anchor="end" textLength="2.5" lengthAdjust="spacingAndGlyphs">90</text>
<text x="14.38" y="242.91" font-size="3.5" fill="#505050" stroke="#505050" stroke-width="0.03" text-anchor="end" textLength="2.5" lengthAdjust="spacingAndGlyphs">85</text>
<text x="14.38" y="248.76" font-size="3.5" fill="#505050" stroke="#505050" stroke-width="0.03" text-anchor="end" textLength="2.5" lengthAdjust="spacingAndGlyphs">80</text>
<text x="14.38" y="254.61" font-size="3.5" fill="#505050" stroke="#505050" stroke-width="0.03" text-anchor="end" textLength="2.5" lengthAdjust="spacingAndGlyphs">75</text>
<text x="14.38" y="260.46" font-size="3.5" fill="#505050" stroke="#505050" stroke-width="0.03" text-anchor="end" textLength="2.5" lengthAdjust="spacingAndGlyphs">70</text>
<text transform="translate(6.6 233.5) rotate(-90)" x="0" y="1.19" font-size="3.3" fill="#404040" stroke="#404040" stroke-width="0.03" text-anchor="middle" textLength="31" lengthAdjust="spacingAndGlyphs">TAMMV dICA (cm/sec)</text>
<text x="44.6" y="224.08" font-size="3" fill="#3c3c3c" stroke="#3c3c3c" stroke-width="0.03" text-anchor="middle">97.5</text>
<text x="45.5" y="234.98" font-size="3" fill="#3c3c3c" stroke="#3c3c3c" stroke-width="0.03" text-anchor="middle">87.67</text>
<text x="100.9" y="219.08" font-size="3" fill="#3c3c3c" stroke="#3c3c3c" stroke-width="0.03" text-anchor="middle">101.75</text>
<text x="100.1" y="238.48" font-size="3" fill="#3c3c3c" stroke="#3c3c3c" stroke-width="0.03" text-anchor="middle">85</text>
<text x="68.95" y="220.84" font-size="4.3" fill="#1a1a1a" stroke="#1a1a1a" stroke-width="0.04" text-anchor="middle" font-weight="bold" textLength="12.11" lengthAdjust="spacingAndGlyphs">p = .78</text>
<text x="70.35" y="246.84" font-size="3.64" fill="#1a1a1a" stroke="#1a1a1a" stroke-width="0.04" text-anchor="middle" font-weight="bold" textLength="11.55" lengthAdjust="spacingAndGlyphs">p = .57</text>
<text x="117.2" y="256.81" font-size="3.86" fill="#1a1a1a" stroke="#1a1a1a" stroke-width="0.04" text-anchor="middle" font-weight="bold" textLength="22.2" lengthAdjust="spacingAndGlyphs">delta: p = .54</text>
<text x="45.9" y="264.44" font-size="2.9" fill="#505050" stroke="#505050" stroke-width="0.03" text-anchor="middle">Pre</text>
<text x="100.9" y="264.44" font-size="2.9" fill="#505050" stroke="#505050" stroke-width="0.03" text-anchor="middle">Post</text>
<text x="73.3" y="269.76" font-size="2.9" fill="#505050" stroke="#505050" stroke-width="0.03" text-anchor="middle">Reading</text>
<text x="49.3" y="279.99" font-size="3" fill="#505050" stroke="#505050" stroke-width="0.03" textLength="13.2" lengthAdjust="spacingAndGlyphs">ACE/ARB</text>
<text x="73.5" y="279.99" font-size="3" fill="#505050" stroke="#505050" stroke-width="0.03" textLength="17.5" lengthAdjust="spacingAndGlyphs">No ACE/ARB</text>
<text x="57.3" y="289.83" font-size="6.2" fill="#000" stroke="#000" stroke-width="0.25" font-weight="bold" textLength="17.8" lengthAdjust="spacingAndGlyphs">Fig. 1h</text>
<text x="228" y="206.68" font-size="4.95" fill="#404040" stroke="#404040" stroke-width="0.07" textLength="64.7" lengthAdjust="spacingAndGlyphs">Placebo: Average TAMMV dICA</text>
<text x="209.38" y="213.66" font-size="3.5" fill="#505050" stroke="#505050" stroke-width="0.03" text-anchor="end" textLength="3.75" lengthAdjust="spacingAndGlyphs">110</text>
<text x="209.38" y="219.59" font-size="3.5" fill="#505050" stroke="#505050" stroke-width="0.03" text-anchor="end" textLength="3.75" lengthAdjust="spacingAndGlyphs">105</text>
<text x="209.38" y="225.51" font-size="3.5" fill="#505050" stroke="#505050" stroke-width="0.03" text-anchor="end" textLength="3.75" lengthAdjust="spacingAndGlyphs">100</text>
<text x="209.38" y="231.44" font-size="3.5" fill="#505050" stroke="#505050" stroke-width="0.03" text-anchor="end" textLength="2.5" lengthAdjust="spacingAndGlyphs">95</text>
<text x="209.38" y="237.36" font-size="3.5" fill="#505050" stroke="#505050" stroke-width="0.03" text-anchor="end" textLength="2.5" lengthAdjust="spacingAndGlyphs">90</text>
<text x="209.38" y="243.28" font-size="3.5" fill="#505050" stroke="#505050" stroke-width="0.03" text-anchor="end" textLength="2.5" lengthAdjust="spacingAndGlyphs">85</text>
<text x="209.38" y="249.21" font-size="3.5" fill="#505050" stroke="#505050" stroke-width="0.03" text-anchor="end" textLength="2.5" lengthAdjust="spacingAndGlyphs">80</text>
<text x="209.38" y="255.13" font-size="3.5" fill="#505050" stroke="#505050" stroke-width="0.03" text-anchor="end" textLength="2.5" lengthAdjust="spacingAndGlyphs">75</text>
<text x="209.38" y="261.06" font-size="3.5" fill="#505050" stroke="#505050" stroke-width="0.03" text-anchor="end" textLength="2.5" lengthAdjust="spacingAndGlyphs">70</text>
<text transform="translate(200.9 233.5) rotate(-90)" x="0" y="1.19" font-size="3.3" fill="#404040" stroke="#404040" stroke-width="0.03" text-anchor="middle" textLength="31" lengthAdjust="spacingAndGlyphs">TAMMV dICA (cm/sec)</text>
<text x="239.7" y="232.28" font-size="3" fill="#3c3c3c" stroke="#3c3c3c" stroke-width="0.03" text-anchor="middle">90.5</text>
<text x="239.7" y="245.48" font-size="3" fill="#3c3c3c" stroke="#3c3c3c" stroke-width="0.03" text-anchor="middle">79.5</text>
<text x="295" y="216.08" font-size="3" fill="#3c3c3c" stroke="#3c3c3c" stroke-width="0.03" text-anchor="middle">103.8</text>
<text x="295" y="245.48" font-size="3" fill="#3c3c3c" stroke="#3c3c3c" stroke-width="0.03" text-anchor="middle">79</text>
<text x="264.8" y="220.88" font-size="4.26" fill="#1a1a1a" stroke="#1a1a1a" stroke-width="0.04" text-anchor="middle" font-weight="bold" textLength="11.76" lengthAdjust="spacingAndGlyphs">p = .06</text>
<text x="268.95" y="245.54" font-size="4.14" fill="#1a1a1a" stroke="#1a1a1a" stroke-width="0.04" text-anchor="middle" font-weight="bold" textLength="11.97" lengthAdjust="spacingAndGlyphs">p = .99</text>
<text x="307.45" y="256.18" font-size="4.26" fill="#1a1a1a" stroke="#1a1a1a" stroke-width="0.04" text-anchor="middle" font-weight="bold" textLength="21.97" lengthAdjust="spacingAndGlyphs">delta: p = .10</text>
<text x="239.9" y="265.24" font-size="2.9" fill="#505050" stroke="#505050" stroke-width="0.03" text-anchor="middle">Pre</text>
<text x="294.9" y="265.24" font-size="2.9" fill="#505050" stroke="#505050" stroke-width="0.03" text-anchor="middle">Post</text>
<text x="267.3" y="270.46" font-size="2.9" fill="#505050" stroke="#505050" stroke-width="0.03" text-anchor="middle">Reading</text>
<text x="244.1" y="280.19" font-size="3" fill="#505050" stroke="#505050" stroke-width="0.03" textLength="12.1" lengthAdjust="spacingAndGlyphs">ACE/ARB</text>
<text x="268.4" y="280.19" font-size="3" fill="#505050" stroke="#505050" stroke-width="0.03" textLength="16.6" lengthAdjust="spacingAndGlyphs">No ACE/ARB</text>
<text x="252.3" y="290.73" font-size="6.2" fill="#000" stroke="#000" stroke-width="0.25" font-weight="bold" textLength="15.8" lengthAdjust="spacingAndGlyphs">Fig. 1i</text>
<text x="439.4" y="205.73" font-size="4.21" fill="#404040" stroke="#404040" stroke-width="0.07" textLength="28.6" lengthAdjust="spacingAndGlyphs">Ambrisentan: TRV</text>
<text x="399.1" y="210.87" font-size="2.98" fill="#505050" stroke="#505050" stroke-width="0.03" text-anchor="end" textLength="3.6" lengthAdjust="spacingAndGlyphs">310</text>
<text x="399.1" y="216.87" font-size="2.98" fill="#505050" stroke="#505050" stroke-width="0.03" text-anchor="end" textLength="3.6" lengthAdjust="spacingAndGlyphs">300</text>
<text x="399.1" y="222.87" font-size="2.98" fill="#505050" stroke="#505050" stroke-width="0.03" text-anchor="end" textLength="3.6" lengthAdjust="spacingAndGlyphs">290</text>
<text x="399.1" y="228.87" font-size="2.98" fill="#505050" stroke="#505050" stroke-width="0.03" text-anchor="end" textLength="3.6" lengthAdjust="spacingAndGlyphs">280</text>
<text x="399.1" y="234.87" font-size="2.98" fill="#505050" stroke="#505050" stroke-width="0.03" text-anchor="end" textLength="3.6" lengthAdjust="spacingAndGlyphs">270</text>
<text x="399.1" y="240.87" font-size="2.98" fill="#505050" stroke="#505050" stroke-width="0.03" text-anchor="end" textLength="3.6" lengthAdjust="spacingAndGlyphs">260</text>
<text x="399.1" y="246.87" font-size="2.98" fill="#505050" stroke="#505050" stroke-width="0.03" text-anchor="end" textLength="3.6" lengthAdjust="spacingAndGlyphs">250</text>
<text x="399.1" y="252.87" font-size="2.98" fill="#505050" stroke="#505050" stroke-width="0.03" text-anchor="end" textLength="3.6" lengthAdjust="spacingAndGlyphs">240</text>
<text x="399.1" y="258.87" font-size="2.98" fill="#505050" stroke="#505050" stroke-width="0.03" text-anchor="end" textLength="3.6" lengthAdjust="spacingAndGlyphs">230</text>
<text x="399.1" y="264.87" font-size="2.98" fill="#505050" stroke="#505050" stroke-width="0.03" text-anchor="end" textLength="3.6" lengthAdjust="spacingAndGlyphs">220</text>
<text transform="translate(393.2 236.7) rotate(-90)" x="0" y="1.19" font-size="3.3" fill="#404040" stroke="#404040" stroke-width="0.03" text-anchor="middle" textLength="16" lengthAdjust="spacingAndGlyphs">TRV (cm/sec)</text>
<text x="430.3" y="234.12" font-size="2.55" fill="#3c3c3c" stroke="#3c3c3c" stroke-width="0.03" text-anchor="middle">265.18</text>
<text x="430.3" y="245.92" font-size="2.55" fill="#3c3c3c" stroke="#3c3c3c" stroke-width="0.03" text-anchor="middle">245.23</text>
<text x="487.7" y="215.62" font-size="2.55" fill="#3c3c3c" stroke="#3c3c3c" stroke-width="0.03" text-anchor="middle">296.76</text>
<text x="487.7" y="246.32" font-size="2.55" fill="#3c3c3c" stroke="#3c3c3c" stroke-width="0.03" text-anchor="middle">245.22</text>
<text x="461.5" y="222.87" font-size="3.42" fill="#1a1a1a" stroke="#1a1a1a" stroke-width="0.04" text-anchor="middle" font-weight="bold" textLength="8.82" lengthAdjust="spacingAndGlyphs">p = .06</text>
<text x="459.35" y="249.61" font-size="3.53" fill="#1a1a1a" stroke="#1a1a1a" stroke-width="0.04" text-anchor="middle" font-weight="bold" textLength="8.33" lengthAdjust="spacingAndGlyphs">p = .37</text>
<text x="505.8" y="261.14" font-size="3.81" fill="#1a1a1a" stroke="#1a1a1a" stroke-width="0.04" text-anchor="middle" font-weight="bold" textLength="16.01" lengthAdjust="spacingAndGlyphs">delta: p = .06</text>
<text x="430.4" y="267.79" font-size="2.46" fill="#505050" stroke="#505050" stroke-width="0.03" text-anchor="middle">Pre TRV</text>
<text x="487.9" y="267.79" font-size="2.46" fill="#505050" stroke="#505050" stroke-width="0.03" text-anchor="middle">Post TRV</text>
<text x="459.4" y="272.31" font-size="2.46" fill="#505050" stroke="#505050" stroke-width="0.03" text-anchor="middle">Reading</text>
<text x="441.8" y="280.44" font-size="2.55" fill="#505050" stroke="#505050" stroke-width="0.03" textLength="9.2" lengthAdjust="spacingAndGlyphs">ACE/ARB</text>
<text x="459.3" y="280.44" font-size="2.55" fill="#505050" stroke="#505050" stroke-width="0.03" textLength="13.7" lengthAdjust="spacingAndGlyphs">No ACE/ARB</text>
<text x="445.9" y="290.03" font-size="6.2" fill="#000" stroke="#000" stroke-width="0.25" font-weight="bold" textLength="16.3" lengthAdjust="spacingAndGlyphs">Fig. 1j</text>
</g>
</svg>
</body></html>
